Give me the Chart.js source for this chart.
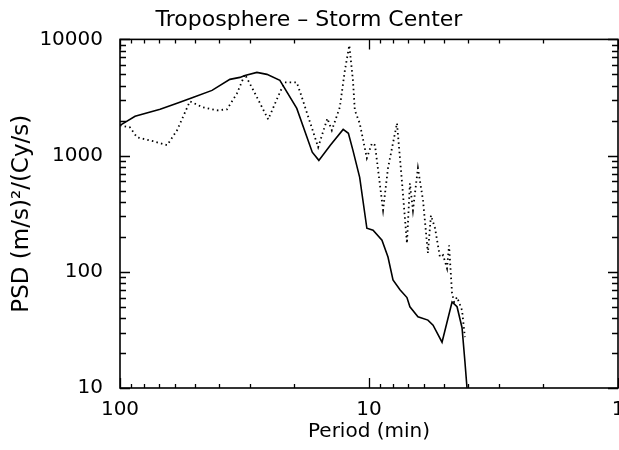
<!DOCTYPE html>
<html>
<head>
<meta charset="utf-8">
<script src="https://cdn.jsdelivr.net/npm/chart.js@4.4.1/dist/chart.umd.min.js"></script>
<style>
    html, body { margin: 0; padding: 0; background: #fff; }
    #wrap { width: 619px; height: 450px; position: relative; }
</style>
</head>
<body>
<div id="wrap"><canvas id="psd"></canvas></div>
<script>
(function () {
    "use strict";

    // period (min) and PSD
    const solidPeriod = [100, 87, 69, 59, 51, 42.7, 36.2, 33, 31.5, 28.2, 25.7, 22.8, 19.5, 16.9, 15.9, 14.3, 12.7, 12.1, 11.6, 10.9, 10.2, 9.63, 8.87, 8.39, 8.01, 7.51, 7.04, 6.85, 6.36, 5.8, 5.53, 5.09, 4.64, 4.43, 4.23, 4.12, 4.04];
    const solidPsd = [1820, 2180, 2500, 2820, 3170, 3640, 4530, 4710, 4900, 5200, 5000, 4440, 2550, 1070, 910, 1230, 1680, 1555, 1110, 650, 237, 228, 187, 134, 85, 70, 60, 50, 41, 38.4, 34.7, 24.8, 55, 50, 33, 17, 10];

    const dottedPeriod = [100, 91.2, 85.5, 73.7, 64.7, 59, 52.4, 46.4, 40.8, 37.2, 33.9, 31.5, 28.7, 25.4, 22.8, 21.8, 19.5, 18.6, 16.0, 14.7, 14.1, 13.1, 12.5, 12.0, 11.6, 11.4, 10.9, 10.2, 9.73, 9.46, 8.78, 8.39, 7.72, 7.37, 7.04, 6.85, 6.66, 6.36, 6.07, 5.8, 5.64, 5.43, 5.19, 5.04, 4.86, 4.77, 4.64, 4.55, 4.43, 4.23, 4.12];
    const dottedPsd = [1820, 1750, 1440, 1330, 1230, 1650, 2930, 2600, 2450, 2500, 3430, 5000, 3430, 2050, 3500, 4270, 4270, 3170, 1180, 2090, 1650, 2600, 5410, 8880, 4440, 2450, 1900, 950, 1280, 1230, 340, 780, 1900, 590, 176, 577, 338, 780, 413, 145, 306, 237, 134, 139, 107, 169, 65.5, 55, 60.5, 46.7, 27.4];

    const xMajor = [100, 10, 1];
    const yMajor = [10, 100, 1000, 10000];

    const FONT = "'DejaVu Sans', sans-serif";

    function toPoints(xs, ys) {
        return xs.map(function (x, i) { return { x: x, y: ys[i] }; });
    }

    // IDL-style box with ticks pointing inward on all four sides
    const inwardTicks = {
        id: "inwardTicks",
        afterDraw: function (chart) {
            const ctx = chart.ctx;
            const ca = chart.chartArea;
            const xs = chart.scales.x;
            const ys = chart.scales.y;
            ctx.save();
            ctx.strokeStyle = "#000";
            ctx.lineWidth = 1.3;
            ctx.beginPath();
            [1, 10].forEach(function (dec) {
                for (let m = 1; m <= 10; m++) {
                    const v = m * dec;
                    const major = m === 1 || m === 10;
                    const px = Math.round(xs.getPixelForValue(v)) + 0.5;
                    const lx = major ? 10 : 4;
                    ctx.moveTo(px, ca.bottom); ctx.lineTo(px, ca.bottom - lx);
                    ctx.moveTo(px, ca.top); ctx.lineTo(px, ca.top + lx);
                }
            });
            [10, 100, 1000].forEach(function (dec) {
                for (let m = 1; m <= 10; m++) {
                    const v = m * dec;
                    const major = m === 1 || m === 10;
                    const py = Math.round(ys.getPixelForValue(v)) + 0.5;
                    const ly = major ? 10 : 6;
                    ctx.moveTo(ca.left, py); ctx.lineTo(ca.left + ly, py);
                    ctx.moveTo(ca.right, py); ctx.lineTo(ca.right - ly, py);
                }
            });
            ctx.stroke();
            ctx.lineWidth = 1.6;
            ctx.strokeRect(ca.left, ca.top, ca.right - ca.left, ca.bottom - ca.top);
            ctx.restore();
        }
    };

    function noPad(scale) {
        scale.paddingLeft = 0;
        scale.paddingRight = 0;
        scale.paddingTop = 0;
        scale.paddingBottom = 0;
    }

    document.addEventListener("DOMContentLoaded", function () {
        const canvas = document.getElementById("psd");
        new Chart(canvas.getContext("2d"), {
            type: "scatter",
            data: {
                datasets: [
                    {
                        label: "solid",
                        data: toPoints(solidPeriod, solidPsd),
                        showLine: true,
                        borderColor: "#000",
                        borderWidth: 1.6,
                        pointRadius: 0,
                        tension: 0,
                    },
                    {
                        label: "dotted",
                        data: toPoints(dottedPeriod, dottedPsd),
                        showLine: true,
                        borderColor: "#000",
                        borderWidth: 1.8,
                        borderDash: [1.5, 3.2],
                        pointRadius: 0,
                        tension: 0,
                    },
                ],
            },
            options: {
                responsive: true,
                maintainAspectRatio: false,
                animation: false,
                events: [],
                layout: { padding: { left: 0, right: 1, top: 0, bottom: 0 } },
                plugins: {
                    legend: { display: false },
                    tooltip: { enabled: false },
                    title: {
                        display: true,
                        text: "Troposphere \u2013 Storm Center",
                        color: "#000",
                        font: { family: FONT, size: 22, weight: "normal" },
                        padding: { top: 7, bottom: 6 },
                    },
                },
                scales: {
                    x: {
                        type: "logarithmic",
                        reverse: true,
                        min: 1,
                        max: 100,
                        afterBuildTicks: function (scale) {
                            scale.ticks = xMajor.map(function (v) { return { value: v, major: true }; });
                        },
                        afterFit: function (scale) {
                            scale.height = 62;
                            noPad(scale);
                        },
                        ticks: {
                            color: "#000",
                            font: { family: FONT, size: 20 },
                            padding: 2,
                            maxRotation: 0,
                            autoSkip: false,
                            callback: function (v) { return String(v); },
                        },
                        grid: { display: false },
                        border: { display: false },
                        title: {
                            display: true,
                            text: "Period (min)",
                            color: "#000",
                            font: { family: FONT, size: 20 },
                            padding: { top: 0, bottom: 6 },
                        },
                    },
                    y: {
                        type: "logarithmic",
                        min: 10,
                        max: 10000,
                        afterBuildTicks: function (scale) {
                            scale.ticks = yMajor.map(function (v) { return { value: v, major: true }; });
                        },
                        afterFit: function (scale) {
                            scale.width = 120;
                            noPad(scale);
                        },
                        ticks: {
                            color: "#000",
                            font: { family: FONT, size: 20 },
                            padding: 9,
                            autoSkip: false,
                            callback: function (v) { return String(v); },
                        },
                        grid: { display: false },
                        border: { display: false },
                        title: {
                            display: true,
                            text: "PSD (m/s)\u00b2/(Cy/s)",
                            color: "#000",
                            font: { family: FONT, size: 23 },
                            padding: { top: 8, bottom: 0 },
                        },
                    },
                },
            },
            plugins: [inwardTicks],
        });
    });
})();
</script>
</body>
</html>
